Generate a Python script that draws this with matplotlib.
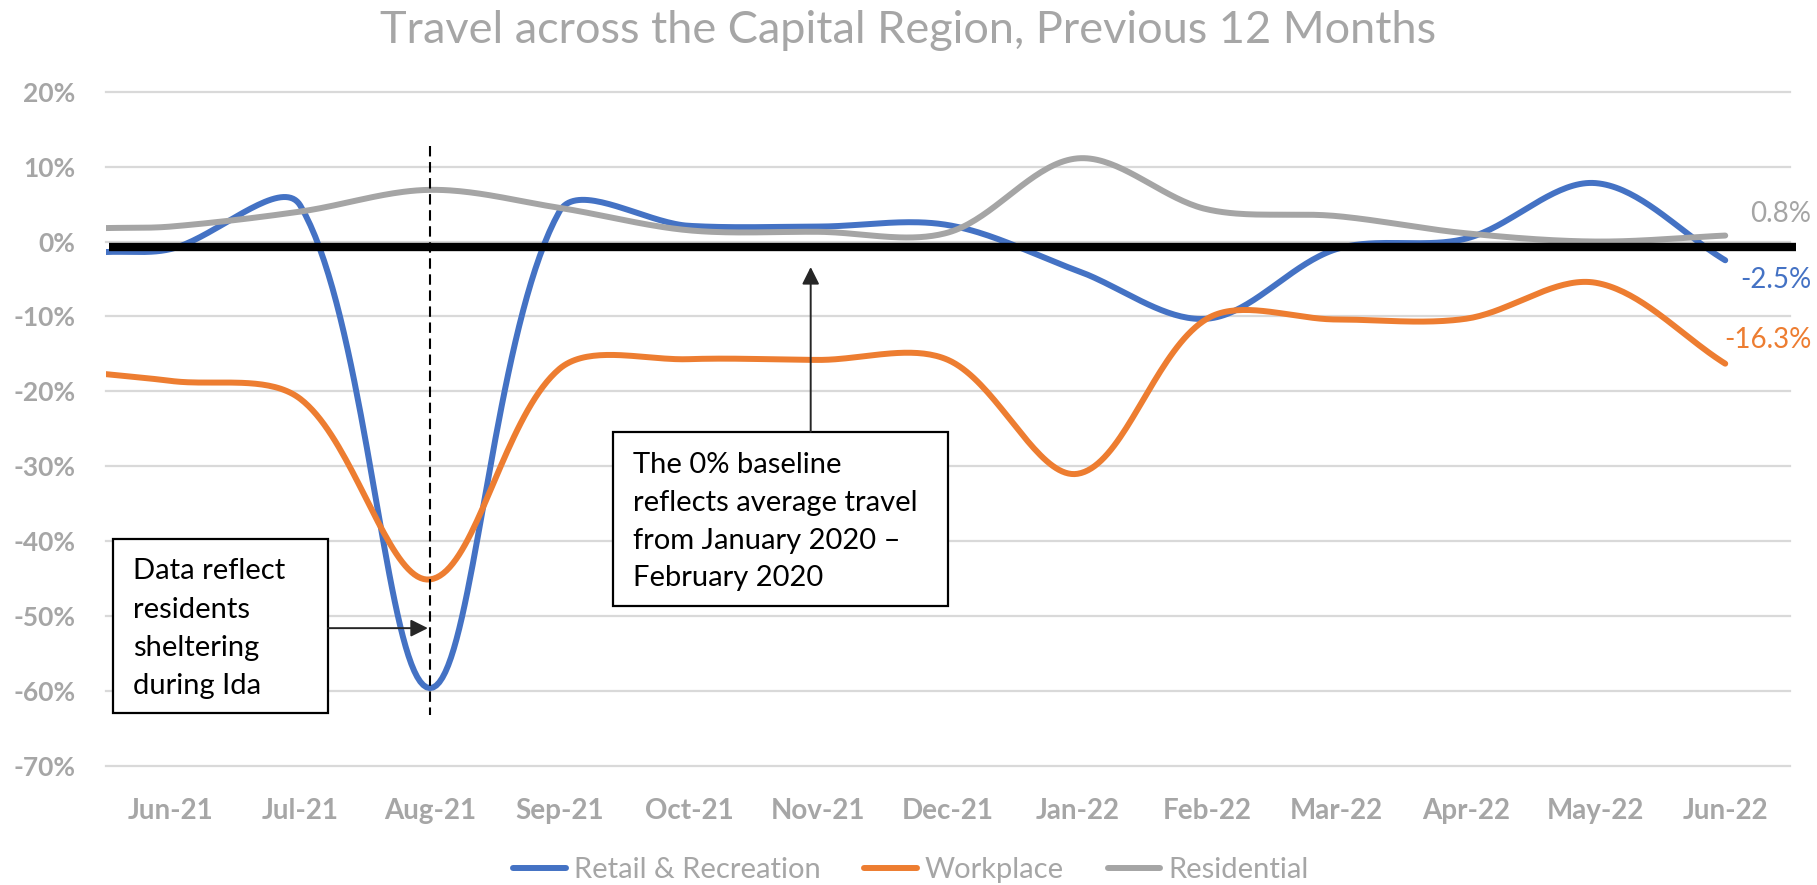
import matplotlib.pyplot as plt
import matplotlib.patches as mpatches
from matplotlib.lines import Line2D
import numpy as np

plt.rcParams['font.family'] = ['Lato', 'DejaVu Sans']

months = ['Jun-21', 'Jul-21', 'Aug-21', 'Sep-21', 'Oct-21', 'Nov-21', 'Dec-21',
          'Jan-22', 'Feb-22', 'Mar-22', 'Apr-22', 'May-22', 'Jun-22']
# first value = start of the period (left edge), then one value per month
retail = [-1.4, -1.0, 4.8, -59.6, 4.0, 2.1, 2.0, 2.2, -3.9, -10.3, -1.0, 0.4, 7.8, -2.5]
workplace = [-17.7, -18.6, -21.0, -45.1, -17.0, -15.7, -15.8, -15.8, -31.0, -10.3, -10.4, -10.3, -5.5, -16.3]
residential = [1.8, 2.0, 4.0, 6.9, 4.5, 1.5, 1.3, 1.2, 11.1, 4.3, 3.4, 1.1, 0.0, 0.8]
yticks = [20, 10, 0, -10, -20, -30, -40, -50, -60, -70]

blue, orange, grey = '#4472C4', '#ED7D31', '#A5A5A5'
txt_grey = '#A6A6A6'

fig = plt.figure(figsize=(18.17, 8.85), dpi=100)
ax = fig.add_axes([106/1817, 1-766/885, (1790-106)/1817, (766-91.7)/885])
ax.set_xlim(-0.5, 12.5)
ax.set_ylim(-70, 20)
xs = np.array([-0.5] + list(range(len(months))), dtype=float)


def smooth(x, y, n=40):
    # bezier smoothing similar to Excel "smoothed line", done in pixel space
    P = ax.transData.transform(np.column_stack([x, y]))
    out = [P[0]]
    for i in range(len(P) - 1):
        p0 = P[i - 1] if i > 0 else P[i]
        p1, p2 = P[i], P[i + 1]
        p3 = P[i + 2] if i + 2 < len(P) else P[i + 1]
        d01 = np.hypot(*(p1 - p0))
        d12 = np.hypot(*(p2 - p1))
        d23 = np.hypot(*(p3 - p2))
        c1 = p1 + (p2 - p0) * (d12 / (d01 + d12)) / 3
        c2 = p2 - (p3 - p1) * (d12 / (d12 + d23)) / 3
        t = np.linspace(0, 1, n)[1:, None]
        seg = (1-t)**3*p1 + 3*(1-t)**2*t*c1 + 3*(1-t)*t**2*c2 + t**3*p2
        out.extend(seg)
    out = ax.transData.inverted().transform(np.array(out))
    return out[:, 0], out[:, 1]


for v in yticks:
    ax.axhline(v, color='#D9D9D9', lw=1.6, zorder=0, clip_on=False)

for vals, c in [(retail, blue), (workplace, orange), (residential, grey)]:
    sx, sy = smooth(xs, np.array(vals))
    ax.plot(sx, sy, color=c, lw=4.3, solid_capstyle='round', zorder=3)

# baseline
ax.plot([-0.48, 12.55], [-0.7, -0.7], color='black', lw=6, zorder=4,
        solid_capstyle='butt', clip_on=False)

# Ida marker
ax.plot([2, 2], [12.7, -63.2], color='black', lw=1.5, ls=(0, (5, 2.7)), zorder=5)

# end labels
lab_x = 12.666
ax.text(lab_x, residential[-1] + 2.9, f'{residential[-1]:.1f}%', color=grey,
        fontsize=20, ha='right', va='center', clip_on=False)
ax.text(lab_x, retail[-1] - 2.6, f'{retail[-1]:.1f}%', color=blue,
        fontsize=20, ha='right', va='center', clip_on=False)
ax.text(lab_x, workplace[-1] + 3.15, f'{workplace[-1]:.1f}%', color=orange,
        fontsize=20, ha='right', va='center', clip_on=False)

# annotation boxes
box1 = mpatches.Rectangle((-0.446, -62.9), 1.66, 23.2, facecolor='white',
                          edgecolor='black', lw=1.6, zorder=6)
ax.add_patch(box1)
ax.text(-0.29, -42.3, 'Data reflect\nresidents\nsheltering\nduring Ida', fontsize=21,
        color='black', va='top', ha='left', linespacing=1.58, zorder=7)
ax.annotate('', xy=(1.985, -51.6), xytext=(1.214, -51.6),
            arrowprops=dict(arrowstyle='-|>', color='#262626', lw=1.4, mutation_scale=26,
                            shrinkA=0, shrinkB=0), zorder=7)

box2 = mpatches.Rectangle((3.415, -48.7), 2.586, 23.3, facecolor='white',
                          edgecolor='black', lw=1.6, zorder=6)
ax.add_patch(box2)
ax.text(3.57, -28.1, 'The 0% baseline\nreflects average travel\nfrom January 2020 \u2013\nFebruary 2020',
        fontsize=21, color='black', va='top', ha='left', linespacing=1.56, zorder=7)
ax.annotate('', xy=(4.94, -3.4), xytext=(4.94, -25.4),
            arrowprops=dict(arrowstyle='-|>', color='#262626', lw=1.4, mutation_scale=26,
                            shrinkA=0, shrinkB=0), zorder=7)

ax.set_yticks(yticks)
ax.set_yticklabels([f'{v}%' for v in yticks])
ax.set_xticks(range(len(months)))
ax.set_xticklabels(months)
ax.tick_params(length=0, labelcolor=txt_grey)
ax.tick_params(axis='y', pad=22, labelsize=19)
ax.tick_params(axis='x', pad=23, labelsize=20)
for lab in ax.get_xticklabels() + ax.get_yticklabels():
    lab.set_fontweight('bold')
for s in ax.spines.values():
    s.set_visible(False)

fig.text(0.5, 1 - 43/885, 'Travel across the Capital Region, Previous 12 Months',
         ha='center', va='baseline', fontsize=32.5, color=txt_grey)

handles = [Line2D([], [], color=c, lw=4.3, solid_capstyle='round') for c in (blue, orange, grey)]
fig.legend(handles, ['Retail & Recreation', 'Workplace', 'Residential'],
           loc='center', bbox_to_anchor=(911/1817, 1 - 870/885), ncol=3, frameon=False,
           fontsize=21, labelcolor=txt_grey, handlelength=1.8, handletextpad=0.28,
           columnspacing=1.5)

fig.savefig('out.png', dpi=100)
